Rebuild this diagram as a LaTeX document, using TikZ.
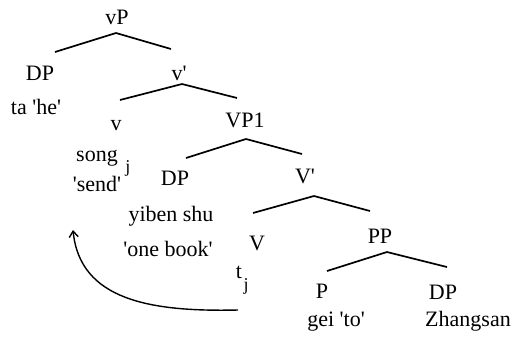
\documentclass[tikz,border=0pt]{standalone}
\usepackage{fontspec}
\newfontfamily\tnr{Liberation Serif}
\usetikzlibrary{arrows.meta}
\tikzset{
  lab/.style={font=\tnr\fontsize{22}{26}\selectfont, inner sep=0pt, anchor=base},
  sub/.style={font=\tnr\fontsize{18}{21}\selectfont, inner sep=0pt, anchor=base},
  br/.style={line width=1.7pt},
  mv/.style={line width=1.4pt, -{Straight Barb[length=6pt,width=9pt,line width=1.4pt]}}
}
\begin{document}
\begin{tikzpicture}[x=1pt,y=-1pt]
\useasboundingbox (0,0) rectangle (515,338);
% labels (positioned by baseline)
\node[lab] (vP) at (117,24) {vP};
\node[lab] (DP1) at (40,80) {DP};
\node[lab] (ta) at (36,114) {ta 'he'};
\node[lab] (vbar) at (179,80) {v'};
\node[lab] (v) at (116,130) {v};
\node[lab] (VP1) at (245,127) {VP1};
\node[lab] (song) at (97,161) {song};
\node[sub] (j1) at (128,172) {j};
\node[lab] (send) at (97,191) {'send'};
\node[lab] (DP2) at (175,185) {DP};
\node[lab] (Vbar) at (305,183) {V'};
\node[lab] (yiben) at (171,221) {yiben shu};
\node[lab] (book) at (168,256) {'one book'};
\node[lab] (V) at (257,250) {V};
\node[lab] (PP) at (380,243) {PP};
\node[lab] (t) at (239,278) {t};
\node[sub] (j2) at (246,290) {j};
\node[lab] (P) at (322,298) {P};
\node[lab] (DP3) at (443,299) {DP};
\node[lab] (gei) at (336,326) {gei 'to'};
\node[lab] (Zh) at (468,326) {Zhangsan};
% branch coordinates
\coordinate (a1) at (116,33); \coordinate (l1) at (55,52); \coordinate (r1) at (171,49);
\coordinate (a2) at (182,84); \coordinate (l2) at (120,100); \coordinate (r2) at (237,98);
\coordinate (a3) at (246,139); \coordinate (l3) at (186,158); \coordinate (r3) at (302,154);
\coordinate (a4) at (314,196); \coordinate (l4) at (253,213); \coordinate (r4) at (370,211);
\coordinate (a5) at (387,252); \coordinate (l5) at (327,271); \coordinate (r5) at (447,267);
\draw[br] (l1) -- (a1) -- (r1);
\draw[br] (l2) -- (a2) -- (r2);
\draw[br] (l3) -- (a3) -- (r3);
\draw[br] (l4) -- (a4) -- (r4);
\draw[br] (l5) -- (a5) -- (r5);
% movement arrow
\coordinate (ms) at (238,310);
\coordinate (me) at (73,230);
\draw[mv] (ms) .. controls (150,312) and (80,300) .. (me);
\end{tikzpicture}
\end{document}
